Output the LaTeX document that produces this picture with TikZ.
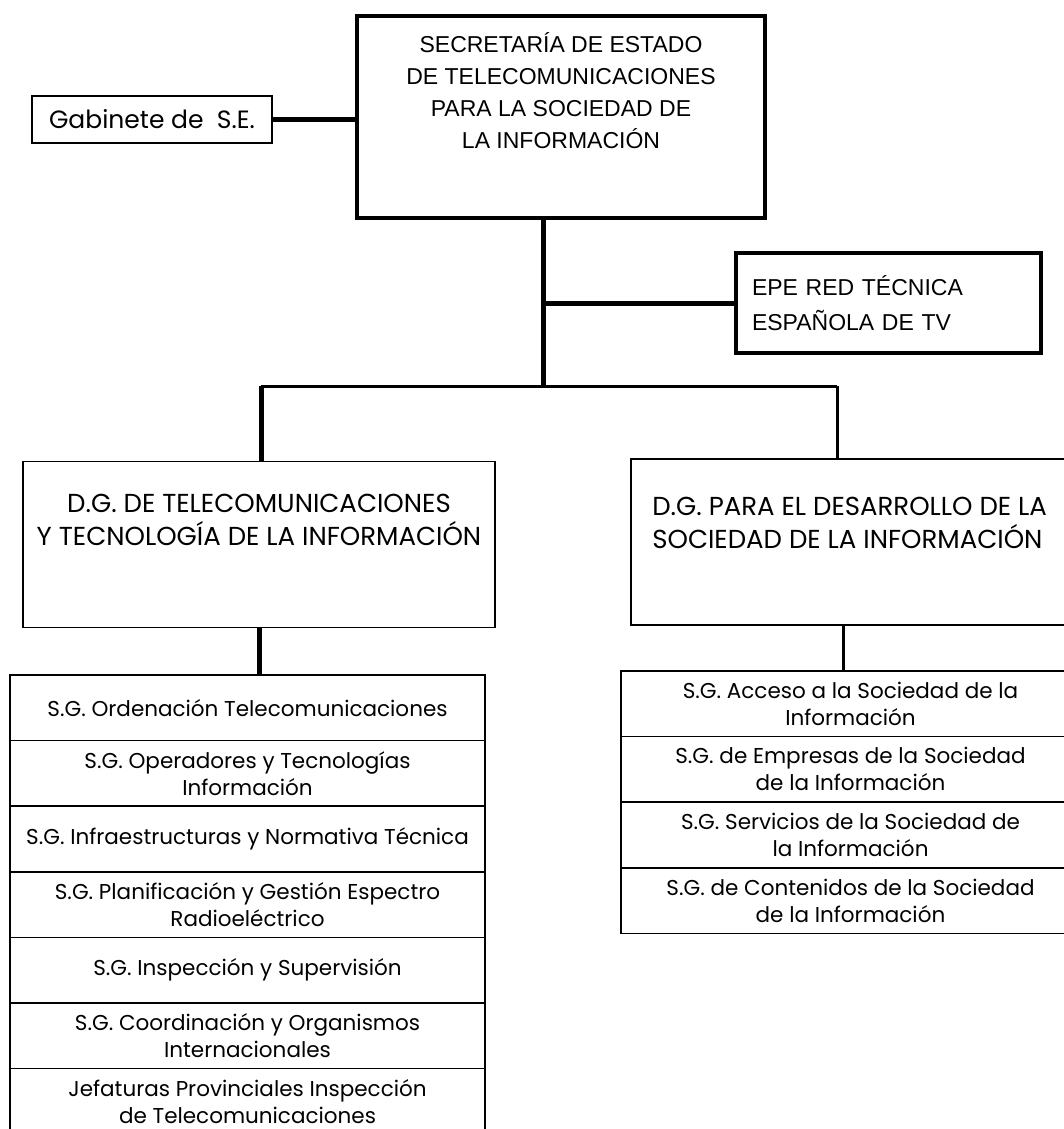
\documentclass[tikz,border=0pt]{standalone}
\usepackage{fontspec}
\setmainfont{Poppins}
\newfontfamily\arialfont{Liberation Sans}
\usetikzlibrary{positioning}
\tikzstyle{headbox} = [rectangle, draw=black, line width=4.5pt, minimum width=408pt, minimum height=202pt, inner sep=0pt]
\tikzstyle{headtext} = [align=center, inner sep=0pt, font=\arialfont\fontsize{23}{32}\selectfont]
\tikzstyle{smallbox} = [rectangle, draw=black, line width=1.5pt, font=\fontsize{25}{28}\selectfont]
\tikzstyle{epebox} = [rectangle, draw=black, line width=3.5pt, minimum width=305pt, minimum height=100pt, text width=273pt, inner xsep=16pt, align=left, font=\arialfont\fontsize{23}{35}\selectfont]
\tikzstyle{dgbox} = [rectangle, draw=black, line width=1.8pt, minimum height=166pt, inner sep=0pt]
\tikzstyle{dgtext} = [inner sep=0pt, font=\fontsize{26}{33}\selectfont]
\tikzstyle{sgbox} = [rectangle, draw=black, line width=1.5pt, minimum height=65.6pt, outer sep=0pt, align=center, font=\fontsize{21.5}{27}\selectfont]
\tikzstyle{sgleft} = [sgbox, minimum width=475pt]
\tikzstyle{sgright} = [sgbox, minimum width=459pt]
\tikzstyle{thickline} = [line width=5pt]
\tikzstyle{midline} = [line width=3pt]

\begin{document}
\begin{tikzpicture}[x=1pt, y=-1pt]
  \useasboundingbox (0,0) rectangle (1064,1129);
  \clip (0,0) rectangle (1064,1129);
  % secretaria and side boxes
  \node (sec)[headbox] at (561,117) {};
  \node (secT)[headtext, below=19pt of sec.north] {SECRETARÍA DE ESTADO\\DE TELECOMUNICACIONES\\PARA LA SOCIEDAD DE\\LA INFORMACIÓN};
  \node (gab)[smallbox, minimum width=240pt, minimum height=47pt] at (152,119.5) {Gabinete de \ S.E.};
  \node (epe)[epebox] at (888.5,303) {EPE RED TÉCNICA\\ESPAÑOLA DE TV};
  \coordinate (j1) at (543,386);
  \coordinate (bL) at (261,386);
  \coordinate (bR) at (837,386);
  \draw [thickline] (gab.east) -- (sec.west |- gab.east);
  \draw [thickline] (sec.south -| j1) -- (j1);
  \draw [thickline] (epe.west) -- (epe.west -| j1);
  \draw [midline] (bL) -- (bR);
  % direcciones generales
  \node (dgl)[dgbox, minimum width=472pt] at (259,544.5) {};
  \node (dglT)[dgtext, align=center, below=33pt of dgl.north] {D.G. DE TELECOMUNICACIONES\\Y TECNOLOGÍA DE LA INFORMACIÓN};
  \node (dgr)[dgbox, minimum width=444pt] at (853,542) {};
  \node (dgrT)[dgtext, align=left, below right=39pt and 22pt of dgr.north west] {D.G. PARA EL DESARROLLO DE LA\\SOCIEDAD DE LA INFORMACIÓN};
  \draw [thickline] (bL) -- (bL |- dgl.north);
  \draw [midline] (bR) -- (bR |- dgr.north);
  % subdirecciones
  \node (sgl1)[sgleft] at (247.5,707.8) {S.G. Ordenación Telecomunicaciones};
  \node (sgl2)[sgleft, below=0pt of sgl1] {S.G. Operadores y Tecnologías\\Información};
  \node (sgl3)[sgleft, below=0pt of sgl2] {S.G. Infraestructuras y Normativa Técnica};
  \node (sgl4)[sgleft, below=0pt of sgl3] {S.G. Planificación y Gestión Espectro\\Radioeléctrico};
  \node (sgl5)[sgleft, below=0pt of sgl4] {S.G. Inspección y Supervisión};
  \node (sgl6)[sgleft, below=0pt of sgl5] {S.G. Coordinación y Organismos\\Internacionales};
  \node (sgl7)[sgleft, below=0pt of sgl6] {Jefaturas Provinciales Inspección\\de Telecomunicaciones};
  \node (sgr1)[sgright] at (850.5,703.8) {S.G. Acceso a la Sociedad de la\\Información};
  \node (sgr2)[sgright, below=0pt of sgr1] {S.G. de Empresas de la Sociedad\\de la Información};
  \node (sgr3)[sgright, below=0pt of sgr2] {S.G. Servicios de la Sociedad de\\la Información};
  \node (sgr4)[sgright, below=0pt of sgr3] {S.G. de Contenidos de la Sociedad\\de la Información};
  \draw [line width=2.5pt] (sgr4.north west) -- (sgr4.north east);
  \draw [thickline] (dgl.south) -- (dgl.south |- sgl1.north);
  \draw [midline] ([xshift=-10pt]dgr.south) -- ([xshift=-10pt]dgr.south |- sgr1.north);
\end{tikzpicture}
\end{document}
